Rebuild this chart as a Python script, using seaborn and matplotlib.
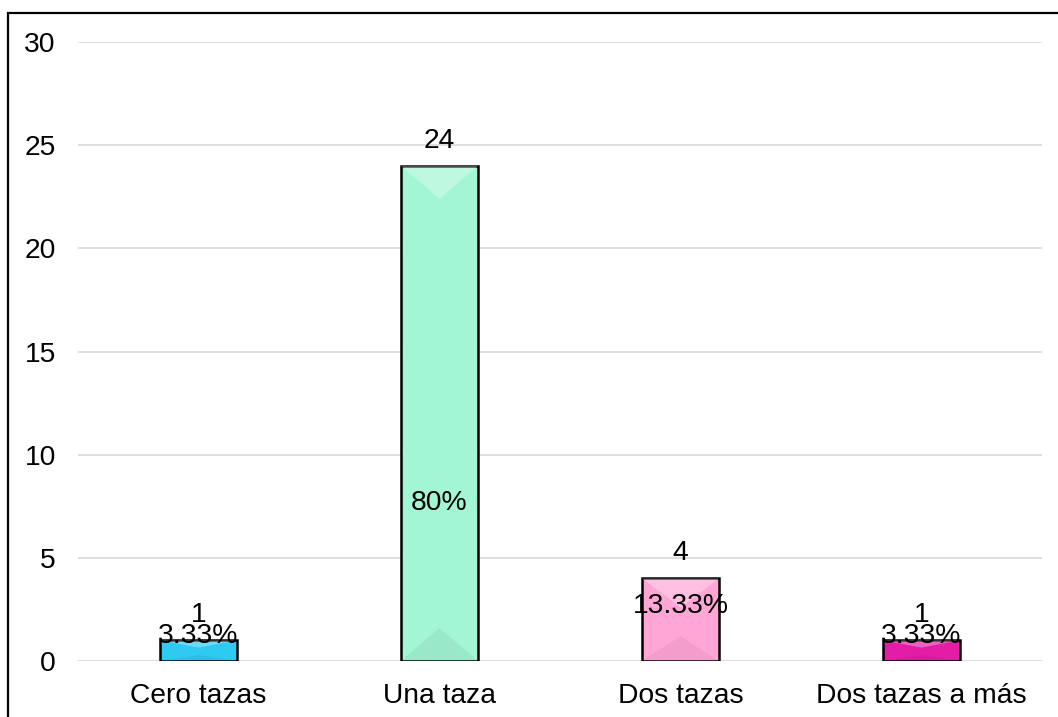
import matplotlib
matplotlib.use("Agg")
import matplotlib.pyplot as plt
import seaborn as sns
import pandas as pd
from matplotlib.patches import Rectangle, Polygon

# datos
categorias = ["Cero tazas", "Una taza", "Dos tazas", "Dos tazas a más"]
cantidades = [1, 24, 4, 1]
porcentajes = ["3.33%", "80%", "13.33%", "3.33%"]
colores = ["#2ECAF2", "#A2F6D3", "#FFA6D6", "#E41DA6"]

# altura (en unidades del eje) donde va cada etiqueta de porcentaje
pct_y = [1.2, 7.66, 2.68, 1.2]

df = pd.DataFrame({"cat": categorias, "n": cantidades})

sns.set_style("white")
plt.rcParams["font.family"] = ["Liberation Sans", "DejaVu Sans"]
plt.rcParams["text.color"] = "black"
plt.rcParams["xtick.color"] = "black"
plt.rcParams["ytick.color"] = "black"

fs = 20.3

fig = plt.figure(figsize=(10.58, 7.17), dpi=100)
ax = fig.add_axes([78 / 1058, 1 - 661 / 717, (1042 - 78) / 1058, (661 - 42) / 717])

sns.barplot(data=df, x="cat", y="n", hue="cat", palette=colores, legend=False,
            width=0.32, edgecolor="black", linewidth=1.8, saturation=1, ax=ax)

# efecto bisel suave
for bar in ax.patches:
    x0, w, h = bar.get_x(), bar.get_width(), bar.get_height()
    d = min(1.6, h * 0.35)
    ax.add_patch(Polygon([(x0, h), (x0 + w, h), (x0 + w / 2, h - d)],
                         closed=True, facecolor="white", alpha=0.3, linewidth=0, zorder=bar.get_zorder() + 0.1))
    ax.add_patch(Polygon([(x0, 0), (x0 + w, 0), (x0 + w / 2, min(d, h * 0.3))],
                         closed=True, facecolor="black", alpha=0.05, linewidth=0, zorder=bar.get_zorder() + 0.1))

ax.set_ylim(0, 30)
ax.set_xlim(-0.5, 3.5)
ax.set_yticks(range(0, 31, 5))
ax.yaxis.grid(True, color="#D9D9D9", linewidth=1.2)
ax.set_axisbelow(True)
for s in ax.spines.values():
    s.set_visible(False)
ax.tick_params(axis="y", length=0, pad=16, labelsize=fs)
ax.tick_params(axis="x", length=0, pad=16, labelsize=fs)
ax.set_xlabel("")
ax.set_ylabel("")

for i, (v, p) in enumerate(zip(cantidades, porcentajes)):
    ax.annotate(str(v), (i, v), xytext=(0, 18), textcoords="offset points",
                ha="center", va="center", fontsize=fs)
    ax.text(i, pct_y[i], p, ha="center", va="center", fontsize=fs, zorder=5)

# marco exterior
fig.patches.append(Rectangle((8 / 1058, -0.1), 1.2, 0.1 + (717 - 13) / 717,
                             transform=fig.transFigure, fill=False,
                             edgecolor="black", linewidth=1.6))

fig.savefig("out.png", dpi=100)
